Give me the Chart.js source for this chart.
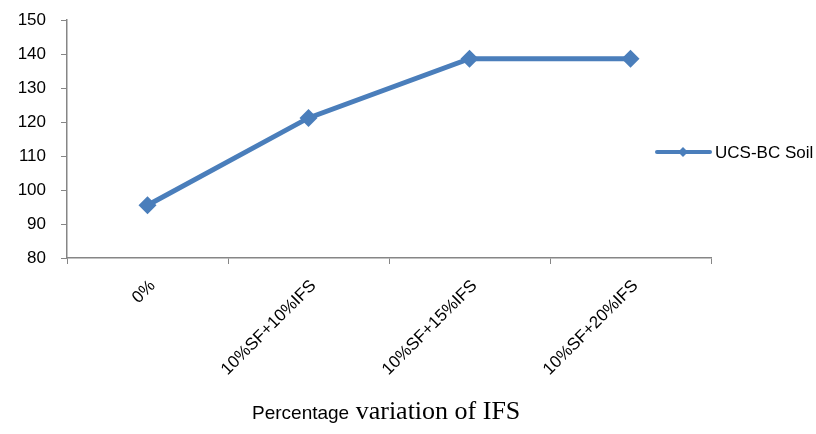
<!DOCTYPE html>
<html>
<head>
<meta charset="utf-8">
<script src="https://cdn.jsdelivr.net/npm/chart.js@4.4.0/dist/chart.umd.min.js"></script>
<style>
  html, body { margin: 0; padding: 0; background: #ffffff; }
  #wrap { width: 816px; height: 434px; position: relative; }
</style>
</head>
<body>
<div id="wrap"><canvas id="grafico"></canvas></div>
<script>
// dados do gráfico
const categorias = ['0%', '10%SF+10%IFS', '10%SF+15%IFS', '10%SF+20%IFS'];
const valoresUCS = [95.5, 121.2, 138.6, 138.6];
const nomeSerie = 'UCS-BC Soil';
const tituloX = ['Percentage', ' variation of IFS'];
const eixoY = { min: 80, max: 150, passo: 10 };

const corLinha = '#4a7ebb';
const corEixo = '#868686';
const fonteTexto = "'Liberation Sans', Arial, sans-serif";
const fonteSerif = "'Liberation Serif', 'Times New Roman', serif";

// legenda desenhada à direita, por cima da área do gráfico (como no Excel)
const legendaPlugin = {
    id: 'legendaDireita',
    afterDraw(chart) {
        const ctx = chart.ctx;
        const ds = chart.data.datasets[0];
        const y = 152;
        ctx.save();
        ctx.strokeStyle = ds.borderColor;
        ctx.lineWidth = 4;
        ctx.lineCap = 'round';
        ctx.beginPath();
        ctx.moveTo(657, y);
        ctx.lineTo(710, y);
        ctx.stroke();
        ctx.fillStyle = ds.borderColor;
        ctx.beginPath();
        ctx.moveTo(683, y - 5);
        ctx.lineTo(688, y);
        ctx.lineTo(683, y + 5);
        ctx.lineTo(678, y);
        ctx.closePath();
        ctx.fill();
        ctx.fillStyle = '#000000';
        ctx.font = '17px ' + fonteTexto;
        ctx.textBaseline = 'middle';
        ctx.textAlign = 'left';
        ctx.fillText(ds.label, 715, y + 1);
        ctx.restore();
    }
};

// título do eixo x com duas fontes diferentes
const tituloPlugin = {
    id: 'tituloEixoX',
    afterDraw(chart) {
        const ctx = chart.ctx;
        const y = 419;
        ctx.save();
        ctx.fillStyle = '#000000';
        ctx.textBaseline = 'alphabetic';
        ctx.textAlign = 'left';
        ctx.font = '19px ' + fonteTexto;
        const w1 = ctx.measureText(tituloX[0]).width;
        ctx.fillText(tituloX[0], 252, y);
        ctx.font = '26px ' + fonteSerif;
        ctx.fillText(tituloX[1], 252 + w1, y);
        ctx.restore();
    }
};

new Chart(document.getElementById('grafico'), {
    type: 'line',
    data: {
        labels: categorias,
        datasets: [{
            label: nomeSerie,
            data: valoresUCS,
            borderColor: corLinha,
            backgroundColor: corLinha,
            borderWidth: 5,
            tension: 0,
            pointStyle: 'rectRot',
            pointRadius: 9,
            pointHoverRadius: 9,
            pointBorderWidth: 0,
            pointBackgroundColor: corLinha,
            fill: false
        }]
    },
    options: {
        responsive: true,
        maintainAspectRatio: false,
        animation: false,
        layout: { padding: { left: 0, right: 105, top: 20, bottom: 0 } },
        plugins: {
            legend: { display: false },
            tooltip: { enabled: false }
        },
        scales: {
            x: {
                offset: true,
                grid: {
                    offset: true,
                    drawOnChartArea: false,
                    tickLength: 6,
                    color: corEixo
                },
                border: { color: corEixo, width: 1.5 },
                ticks: {
                    color: '#000000',
                    font: { family: fonteTexto, size: 17 },
                    maxRotation: 45,
                    minRotation: 45,
                    padding: 12,
                    labelOffset: 5,
                    autoSkip: false
                },
                afterFit(scale) { scale.height = 176; }
            },
            y: {
                min: eixoY.min,
                max: eixoY.max,
                grid: {
                    drawOnChartArea: false,
                    tickLength: 6,
                    color: corEixo
                },
                border: { color: corEixo, width: 1.5 },
                ticks: {
                    stepSize: eixoY.passo,
                    color: '#000000',
                    font: { family: fonteTexto, size: 17 },
                    padding: 15
                },
                afterFit(scale) {
                    scale.width = 67;
                    // evita que o padding dos rótulos empurre o topo para baixo
                    scale.paddingTop = 0;
                    scale.paddingBottom = 0;
                }
            }
        }
    },
    plugins: [legendaPlugin, tituloPlugin]
});
</script>
</body>
</html>
